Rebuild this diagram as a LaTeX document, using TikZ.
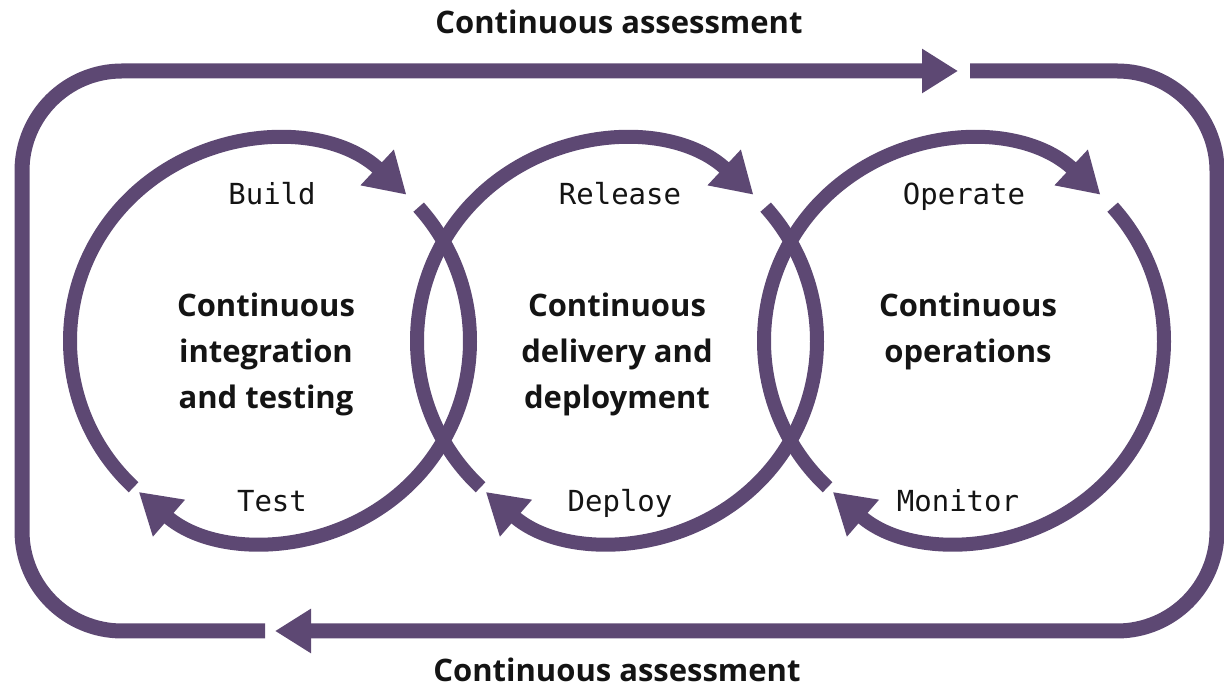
\documentclass[tikz,border=0pt]{standalone}
\usepackage{fontspec}
\setsansfont{Open Sans}
\newfontfamily\labelmono{DejaVu Sans Mono}
\usetikzlibrary{arrows.meta}
\definecolor{loop}{RGB}{93,72,115}
\definecolor{ink}{RGB}{20,20,20}
\tikzset{
  loopline/.style={draw=loop, line width=14pt},
  outerline/.style={draw=loop, line width=15pt, rounded corners=100pt},
  bigtip/.style={-{Triangle[length=40pt,width=46pt]}},
  outertip/.style={-{Triangle[length=36pt,width=42pt]}},
  heading/.style={font=\sffamily\bfseries\fontsize{31}{36}\selectfont, text=ink},
  phase/.style={font=\sffamily\bfseries\fontsize{31}{46}\selectfont, text=ink, align=center},
  steplabel/.style={font=\labelmono\fontsize{29}{34}\selectfont, text=ink, anchor=base}
}
\begin{document}
\begin{tikzpicture}[x=1pt,y=1pt]
\useasboundingbox (0,0) rectangle (1224,695);
% outer loop coordinates
\coordinate (topstart) at (970,624);
\coordinate (tr) at (1217,624);
\coordinate (br) at (1217,64);
\coordinate (botend) at (275,64);
\coordinate (botstart) at (265,64);
\coordinate (bl) at (22,64);
\coordinate (tl) at (22,624);
\coordinate (topend) at (958,624);
\draw[outerline, outertip] (topstart) -- (tr) -- (br) -- (botend);
\draw[outerline, outertip] (botstart) -- (bl) -- (tl) -- (topend);
% circle centres
\coordinate (c1) at (270,354);
\coordinate (c2) at (617,354);
\coordinate (c3) at (964,354);
\foreach \c in {c1,c2,c3}{
  \draw[loopline, bigtip] (\c) ++(227:200) arc[start angle=227, end angle=47, radius=200];
  \draw[loopline, bigtip] (\c) ++(42:200) arc[start angle=42, end angle=-131, radius=200];
}
% headings
\node[heading] (toph) at (619,673) {Continuous assessment};
\node[heading] (both) at (617,25) {Continuous assessment};
% phases
\node[phase] (p1) at (266,341) {Continuous\\integration\\and testing};
\node[phase] (p2) at (617,341) {Continuous\\delivery and\\deployment};
\node[phase] (p3) at (968,364) {Continuous\\operations};
% step labels
\node[steplabel] (build) at (272,490) {Build};
\node[steplabel] (release) at (620,490) {Release};
\node[steplabel] (operate) at (964,490) {Operate};
\node[steplabel] (test) at (272,183) {Test};
\node[steplabel] (deploy) at (620,183) {Deploy};
\node[steplabel] (monitor) at (958,183) {Monitor};
\end{tikzpicture}
\end{document}
